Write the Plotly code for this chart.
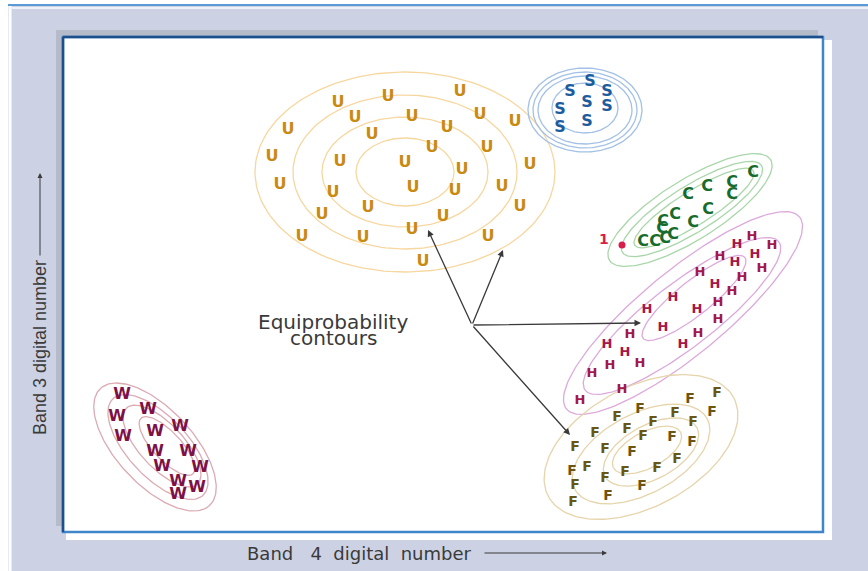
import numpy as np
import plotly.graph_objects as go

# Band 4 (x) / Band 3 (y) digital numbers for each training class
u_x = [460, 388, 338, 355, 412, 480, 515, 288, 372, 447, 432, 487, 272, 340, 405, 530,
       462, 280, 413, 455, 502, 333, 368, 520, 322, 443, 412, 302, 363, 488, 423]
u_y = [479, 474, 468, 453, 454, 456, 449, 441, 436, 443, 423, 423, 414, 409, 408, 406,
       401, 386, 383, 380, 384, 378, 363, 364, 356, 354, 341, 334, 333, 334, 309]

s_x = [590, 570, 607, 560, 587, 607, 560, 587]
s_y = [489, 479, 479, 461, 468, 464, 443, 449]

c_x = [753, 732, 732, 707, 688, 708, 675, 693, 663, 662, 673, 665, 655, 643]
c_y = [398, 388, 376, 384, 376, 361, 356, 348, 349, 342, 336, 332, 329, 329]

h_x = [752, 737, 772, 720, 735, 755, 762, 700, 715, 742, 732, 718, 673, 647, 697, 718,
       663, 630, 698, 683, 607, 625, 640, 610, 592, 622, 580]
h_y = [334, 326, 325, 314, 308, 316, 302, 298, 286, 293, 279, 268, 273, 261, 261, 251,
       243, 236, 237, 226, 226, 218, 207, 205, 197, 181, 170]

f_x = [717, 690, 712, 640, 617, 675, 693, 653, 595, 627, 643, 672, 692, 575, 605, 632,
       677, 657, 625, 587, 572, 605, 642, 575, 608, 573]
f_y = [178, 172, 159, 162, 154, 158, 149, 149, 138, 142, 135, 134, 129, 124, 122, 119,
       112, 103, 99, 104, 100, 93, 85, 86, 75, 69]

w_x = [122, 148, 117, 180, 123, 155, 155, 188, 162, 200, 178, 197, 178]
w_y = [176, 161, 154, 144, 134, 139, 119, 119, 104, 103, 89, 83, 76]

pixel_x = [622]
pixel_y = [326]

# equiprobability contours: centre x, centre y, semi-major, semi-minor, angle (deg)
contours = {
    "U": [(405, 399, 150, 100, 0), (405, 399, 112, 77, 0), (405, 399, 83, 55, 0), (405, 399, 49, 34, 0)],
    "S": [(585, 461, 57, 42, 0), (585, 461, 52, 38, 0), (585, 461, 47, 34, 0), (585, 463, 33, 25, 0)],
    "C": [(690, 361, 95, 30, 32), (692, 362, 82, 23, 32), (694, 363, 70, 17, 32)],
    "H": [(683, 258, 151, 42, 39.5), (682, 255, 122, 32, 37.5), (694, 273, 65, 17, 38.5)],
    "F": [(641, 124, 105, 60, 28), (641, 117, 75, 40, 28), (651, 119, 52, 27, 28), (647, 121, 38, 18, 28)],
    "W": [(155, 124, 80, 38, -47), (158, 124, 66, 30, -47), (162, 125, 52, 22, -47), (167, 125, 38, 14, -47)],
}

ring_colors = {"U": "#f7d7a0", "S": "#a3c0e6", "C": "#a9d6a9", "H": "#dcaadb",
               "F": "#e6d4aa", "W": "#dcaab2"}

classes = [
    ("U", u_x, u_y, "#c98a12", 16),
    ("S", s_x, s_y, "#1d5c9c", 16),
    ("C", c_x, c_y, "#176b2c", 16),
    ("H", h_x, h_y, "#a3184a", 13),
    ("F", f_x, f_y, "#6b5512", 14),
    ("W", w_x, w_y, "#7d1145", 16),
]


def ellipse(cx, cy, a, b, ang):
    t = np.linspace(0, 2 * np.pi, 181)
    th = np.radians(ang)
    x = cx + a * np.cos(t) * np.cos(th) - b * np.sin(t) * np.sin(th)
    y = cy + a * np.cos(t) * np.sin(th) + b * np.sin(t) * np.cos(th)
    return x, y


fig = go.Figure()

for key, rings in contours.items():
    for cx, cy, a, b, ang in rings:
        ex, ey = ellipse(cx, cy, a, b, ang)
        fig.add_trace(go.Scatter(x=ex, y=ey, mode="lines", hoverinfo="skip",
                                 line=dict(color=ring_colors[key], width=1.3), showlegend=False))

for letter, xs, ys, color, size in classes:
    fig.add_trace(go.Scatter(
        x=xs, y=ys, mode="text", text=[letter] * len(xs), showlegend=False,
        textfont=dict(family="DejaVu Sans", size=size, color=color, weight="bold")
    ))

fig.add_trace(go.Scatter(x=pixel_x, y=pixel_y, mode="markers", showlegend=False,
                         marker=dict(color="#d81e4a", size=7)))

ink = "#3a3a3a"
shapes = [
    # outer panel
    dict(type="rect", x0=8, x1=868, y0=0, y1=566, fillcolor="#ccd2e4", line_width=0, layer="below"),
    dict(type="line", x0=8, x1=868, y0=566, y1=566, line=dict(color="#5b9bd5", width=2), layer="below"),
    dict(type="line", x0=10, x1=10, y0=0, y1=565, line=dict(color="white", width=3), layer="below"),
    dict(type="line", x0=10, x1=868, y0=563, y1=563, line=dict(color="#eef1f8", width=2), layer="below"),
    # shadow + highlight around plot box
    dict(type="rect", x0=56, x1=818, y0=45, y1=541, fillcolor="#b6bbca", line_width=0, layer="below"),
    dict(type="rect", x0=66, x1=832, y0=31, y1=531, fillcolor="white", line_width=0, layer="below"),
    dict(type="rect", x0=63, x1=823, y0=39, y1=534, fillcolor="white",
         line=dict(color="#3f86c9", width=2.5), layer="below"),
    dict(type="line", x0=63, x1=823, y0=534, y1=534, line=dict(color="#1d4f8c", width=2.5), layer="below"),
    dict(type="line", x0=63, x1=63, y0=39, y1=534, line=dict(color="#1d4f8c", width=2.5), layer="below"),
]

# arrows from the label to the contours
tail = (472, 246)
heads_x = [428, 503, 641, 570]
heads_y = [341, 321, 248, 136]

annotations = []
for hx, hy in zip(heads_x, heads_y):
    annotations.append(dict(x=hx, y=hy, ax=tail[0], ay=tail[1], xref="x", yref="y",
                            axref="x", ayref="y", showarrow=True, arrowhead=2,
                            arrowsize=1, arrowwidth=1.3, arrowcolor=ink, text=""))

annotations += [
    dict(x=333, y=249, text="Equiprobability", showarrow=False, xref="x", yref="y",
         font=dict(family="DejaVu Sans", size=20, color=ink)),
    dict(x=333, y=233, text="contours", showarrow=False, xref="x", yref="y",
         font=dict(family="DejaVu Sans", size=20, color=ink)),
    dict(x=604, y=332, text="<b>1</b>", showarrow=False, xref="x", yref="y",
         font=dict(family="DejaVu Sans", size=14, color="#d81e4a")),
    # axis titles
    dict(x=245, y=18, text="Band\u00a0\u00a0\u00a04\u00a0\u00a0digital\u00a0\u00a0number",
         showarrow=False, xref="x", yref="y", xanchor="left",
         font=dict(family="DejaVu Sans", size=18, color=ink)),
    dict(x=607, y=18, ax=483, ay=18, xref="x", yref="y", axref="x", ayref="y",
         showarrow=True, arrowhead=2, arrowsize=1, arrowwidth=1, arrowcolor=ink, text=""),
    dict(x=40, y=223, text="Band 3 digital number", textangle=-90, showarrow=False,
         xref="x", yref="y", font=dict(family="Liberation Sans", size=18, color=ink)),
    dict(x=40, y=398, ax=40, ay=314, xref="x", yref="y", axref="x", ayref="y",
         showarrow=True, arrowhead=2, arrowsize=1, arrowwidth=1, arrowcolor=ink, text=""),
]

fig.update_layout(
    width=868, height=571,
    margin=dict(l=0, r=0, t=0, b=0),
    paper_bgcolor="white", plot_bgcolor="rgba(0,0,0,0)",
    shapes=shapes, annotations=annotations,
    xaxis=dict(range=[0, 868], visible=False, fixedrange=True),
    yaxis=dict(range=[0, 571], visible=False, fixedrange=True),
    showlegend=False,
)

fig.write_html("out.html", config={"displayModeBar": False},
               post_script="document.body.style.margin='0';document.body.style.overflow='hidden';")
